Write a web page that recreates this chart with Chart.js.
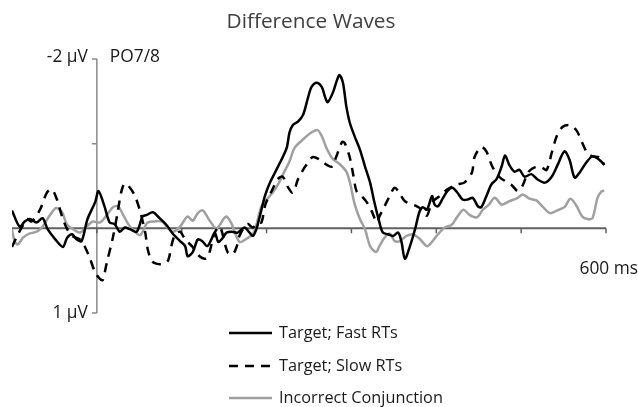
<!DOCTYPE html>
<html><head><meta charset="utf-8">
<script src="https://cdn.jsdelivr.net/npm/chart.js@4"></script>
<style>html,body{margin:0;padding:0;background:#fff}canvas{display:block}</style>
</head><body>
<canvas id="c" width="638" height="407"></canvas>
<script>
const titleText = "Difference Waves";
const electrodeLabel = "PO7/8";
const seriesLabels = ["Target; Fast RTs", "Target; Slow RTs", "Incorrect Conjunction"];
const xMin = -100, xMax = 600;
const yMin = -2, yMax = 1;
const xTickValues = [0, 100, 200, 300, 400, 500, 600];
const yTickValues = [-2, -1, 0, 1];
const yTickLabels = {"-2": "-2 µV", "1": "1 µV"};
const xEndLabel = "600 ms";

// [time ms, amplitude µV]
const fastRT = [[-100,-0.21],[-91,-0.02],[-85,-0.08],[-79,-0.11],[-71,-0.07],[-64,-0.12],[-58,0.01],[-49,0.13],[-40,0.22],[-35,0.11],[-29,0.07],[-24,0.13],[-18,0.15],[-11,-0.11],[-2,-0.31],[2,-0.44],[9,-0.26],[15,-0.07],[21,-0.05],[27,0.04],[33,-0.01],[39,0.01],[47,0.04],[54,-0.14],[59,-0.16],[66,-0.19],[74,-0.12],[82,-0.04],[90,0.07],[98,0.15],[104,0.21],[107,0.33],[113,0.28],[119,0.13],[124,0.15],[130,0.21],[135,0.13],[139,0.05],[143,0.16],[147,0.13],[153,0.05],[159,0.04],[166,0.05],[174,-0.01],[180,0.05],[184,0.09],[188,0.01],[192,-0.14],[198,-0.38],[204,-0.54],[210,-0.66],[216,-0.78],[219,-0.84],[224,-0.96],[227,-1.13],[231,-1.22],[237,-1.26],[243,-1.34],[249,-1.55],[253,-1.67],[259,-1.72],[265,-1.67],[269,-1.55],[272,-1.49],[278,-1.60],[283,-1.75],[286,-1.81],[290,-1.72],[294,-1.44],[298,-1.25],[304,-1.08],[310,-0.93],[316,-0.73],[322,-0.54],[327,-0.31],[333,-0.07],[337,0.05],[343,0.07],[349,0.09],[355,0.05],[359,0.16],[363,0.36],[369,0.21],[375,0.01],[380,-0.19],[384,-0.25],[389,-0.22],[395,-0.38],[398,-0.28],[402,-0.26],[408,-0.36],[413,-0.44],[419,-0.48],[425,-0.42],[431,-0.34],[437,-0.34],[443,-0.36],[449,-0.26],[453,-0.25],[459,-0.38],[465,-0.52],[471,-0.58],[477,-0.73],[481,-0.86],[486,-0.75],[492,-0.67],[498,-0.69],[504,-0.61],[512,-0.64],[519,-0.58],[528,-0.54],[536,-0.61],[543,-0.75],[551,-0.91],[557,-0.81],[563,-0.60],[569,-0.66],[577,-0.78],[584,-0.85],[592,-0.81],[598,-0.75]];

const slowRT = [[-100,0.22],[-94,0.09],[-88,-0.02],[-82,-0.11],[-77,-0.08],[-67,-0.22],[-59,-0.42],[-53,-0.46],[-47,-0.34],[-41,-0.14],[-35,0.01],[-29,0.09],[-20,0.13],[-14,0.22],[-8,0.36],[-2,0.52],[4,0.60],[7,0.61],[12,0.39],[18,0.15],[24,-0.16],[29,-0.44],[33,-0.53],[39,-0.48],[45,-0.38],[51,-0.20],[57,0.05],[60,0.25],[65,0.39],[71,0.42],[78,0.42],[84,0.38],[88,0.20],[92,0.08],[98,0.04],[104,0.13],[112,0.21],[115,0.25],[121,0.33],[127,0.36],[131,0.34],[139,0.05],[145,-0.02],[154,0.28],[160,0.31],[165,0.21],[168,0.09],[174,-0.02],[178,-0.05],[184,-0.01],[190,-0.07],[194,-0.07],[198,-0.26],[201,-0.34],[207,-0.46],[213,-0.58],[219,-0.61],[225,-0.49],[231,-0.42],[237,-0.58],[243,-0.69],[247,-0.75],[254,-0.84],[263,-0.81],[271,-0.75],[277,-0.73],[283,-0.87],[289,-1.02],[292,-1.01],[298,-0.84],[302,-0.64],[306,-0.44],[312,-0.38],[318,-0.31],[324,-0.20],[330,-0.07],[333,-0.14],[339,-0.26],[345,-0.38],[351,-0.48],[357,-0.41],[363,-0.32],[375,-0.27],[383,-0.22],[389,-0.15],[395,-0.31],[404,-0.38],[413,-0.46],[425,-0.52],[433,-0.54],[442,-0.66],[445,-0.84],[453,-0.96],[459,-0.91],[466,-0.73],[475,-0.60],[481,-0.56],[489,-0.51],[496,-0.44],[502,-0.51],[508,-0.66],[516,-0.72],[524,-0.72],[530,-0.69],[536,-0.89],[542,-1.09],[549,-1.20],[557,-1.22],[565,-1.16],[572,-1.01],[578,-0.89],[584,-0.85],[592,-0.84],[598,-0.75]];

const incorrectConj = [[-100,0.01],[-97,0.15],[-93,0.19],[-87,0.11],[-79,0.06],[-71,0.04],[-64,-0.02],[-55,-0.16],[-48,-0.24],[-41,-0.19],[-35,-0.04],[-28,0.01],[-20,0.05],[-12,-0.02],[-5,-0.08],[4,-0.07],[12,-0.16],[19,-0.25],[25,-0.26],[31,-0.16],[37,-0.05],[42,0.01],[51,0.08],[59,-0.06],[66,-0.08],[77,-0.08],[84,0.00],[90,0.04],[98,-0.02],[107,-0.14],[113,-0.09],[119,-0.18],[125,-0.21],[133,-0.09],[141,0.00],[150,-0.12],[153,-0.14],[159,-0.05],[168,0.16],[177,0.12],[185,0.05],[194,-0.26],[201,-0.35],[207,-0.42],[213,-0.51],[221,-0.67],[227,-0.79],[233,-0.95],[243,-1.05],[251,-1.12],[260,-1.16],[265,-1.09],[271,-0.94],[278,-0.82],[286,-0.76],[294,-0.67],[298,-0.55],[304,-0.28],[310,-0.11],[316,0.01],[322,0.21],[329,0.28],[333,0.21],[339,0.11],[345,0.06],[351,0.15],[357,0.15],[365,0.09],[372,0.07],[380,0.12],[389,0.21],[395,0.16],[402,0.07],[410,-0.01],[418,-0.04],[425,-0.14],[432,-0.22],[439,-0.16],[448,-0.13],[455,-0.22],[462,-0.28],[469,-0.36],[477,-0.28],[486,-0.32],[496,-0.36],[502,-0.40],[510,-0.35],[518,-0.33],[525,-0.26],[534,-0.18],[542,-0.21],[551,-0.25],[558,-0.35],[565,-0.27],[572,-0.14],[578,-0.11],[584,-0.12],[590,-0.36],[595,-0.44],[598,-0.44]];

const toXY = arr => arr.map(p => ({x: p[0], y: p[1]}));
const FONT = '"Open Sans", "Noto Sans", sans-serif';

function fitSize(ctx, text, targetW) {
  ctx.font = '100px ' + FONT;
  return 100 * targetW / ctx.measureText(text).width;
}
function drawText(ctx, text, x, y, size, color, align) {
  ctx.font = size.toFixed(2) + 'px ' + FONT;
  ctx.fillStyle = color;
  ctx.textAlign = align || 'left';
  ctx.textBaseline = 'middle';
  ctx.fillText(text, x, y);
}

const erpPlugin = {
  id: 'erpAxes',
  beforeDatasetsDraw(chart) {
    const {ctx} = chart; const x = chart.scales.x, y = chart.scales.y;
    const x0 = x.getPixelForValue(0), y0 = y.getPixelForValue(0);
    ctx.save();
    ctx.strokeStyle = '#8a8a8a'; ctx.lineWidth = 1.5;
    ctx.beginPath();
    ctx.moveTo(x0, y.getPixelForValue(yMin)); ctx.lineTo(x0, y.getPixelForValue(yMax));
    yTickValues.forEach(v => { const py = y.getPixelForValue(v); ctx.moveTo(x0 - 5, py); ctx.lineTo(x0, py); });
    ctx.stroke();
    ctx.strokeStyle = '#606060'; ctx.lineWidth = 2;
    ctx.beginPath();
    ctx.moveTo(x.getPixelForValue(xMin), y0); ctx.lineTo(x.getPixelForValue(xMax), y0);
    ctx.stroke();
    ctx.lineWidth = 1.5;
    ctx.beginPath();
    xTickValues.forEach(t => { const px = x.getPixelForValue(t); ctx.moveTo(px, y0); ctx.lineTo(px, y0 + 5); });
    ctx.stroke();
    ctx.restore();
  },
  afterDraw(chart) {
    const {ctx} = chart; const x = chart.scales.x, y = chart.scales.y;
    const x0 = x.getPixelForValue(0);
    ctx.save();
    const tSize = fitSize(ctx, titleText, 169);
    const aSize = (fitSize(ctx, xEndLabel, 54) + fitSize(ctx, yTickLabels["-2"], 46) + fitSize(ctx, electrodeLabel, 48)) / 3;
    const lSize = fitSize(ctx, seriesLabels[2], 164);
    drawText(ctx, titleText, 311, 22, tSize, '#404040', 'center');
    drawText(ctx, yTickLabels["-2"], x0 - 9, y.getPixelForValue(-2) - 2, aSize, '#1a1a1a', 'right');
    drawText(ctx, yTickLabels["1"], x0 - 9, y.getPixelForValue(1), aSize, '#1a1a1a', 'right');
    drawText(ctx, electrodeLabel, x0 + 13, y.getPixelForValue(-2) - 2, aSize, '#1a1a1a', 'left');
    drawText(ctx, xEndLabel, x.getPixelForValue(600) + 32, y.getPixelForValue(0) + 41, aSize, '#1a1a1a', 'right');
    const rows = [333, 366, 398];
    chart.data.datasets.forEach((ds, i) => {
      ctx.strokeStyle = ds.borderColor; ctx.lineWidth = ds.borderWidth;
      ctx.setLineDash(ds.borderDash || []);
      ctx.beginPath(); ctx.moveTo(229, rows[i]); ctx.lineTo(272, rows[i]); ctx.stroke();
      ctx.setLineDash([]);
      drawText(ctx, ds.label, 279, rows[i], lSize, '#1a1a1a', 'left');
    });
    ctx.restore();
  }
};

new Chart(document.getElementById('c'), {
  type: 'line',
  data: {
    datasets: [
      {label: seriesLabels[0], data: toXY(fastRT), borderColor: '#000000', borderWidth: 2.5, pointRadius: 0, tension: 0.3, fill: false},
      {label: seriesLabels[1], data: toXY(slowRT), borderColor: '#000000', borderWidth: 2.5, borderDash: [9, 7], pointRadius: 0, tension: 0.3, fill: false},
      {label: seriesLabels[2], data: toXY(incorrectConj), borderColor: '#a0a0a0', borderWidth: 2.5, pointRadius: 0, tension: 0.3, fill: false}
    ]
  },
  options: {
    responsive: false, animation: false, devicePixelRatio: 1,
    layout: {padding: {left: 12, right: 32, top: 59, bottom: 94}},
    plugins: {legend: {display: false}, title: {display: false}, tooltip: {enabled: false}},
    scales: {
      x: {type: 'linear', min: xMin, max: xMax, display: false},
      y: {type: 'linear', min: yMin, max: yMax, reverse: true, display: false}
    }
  },
  plugins: [erpPlugin]
});
</script>
</body></html>
